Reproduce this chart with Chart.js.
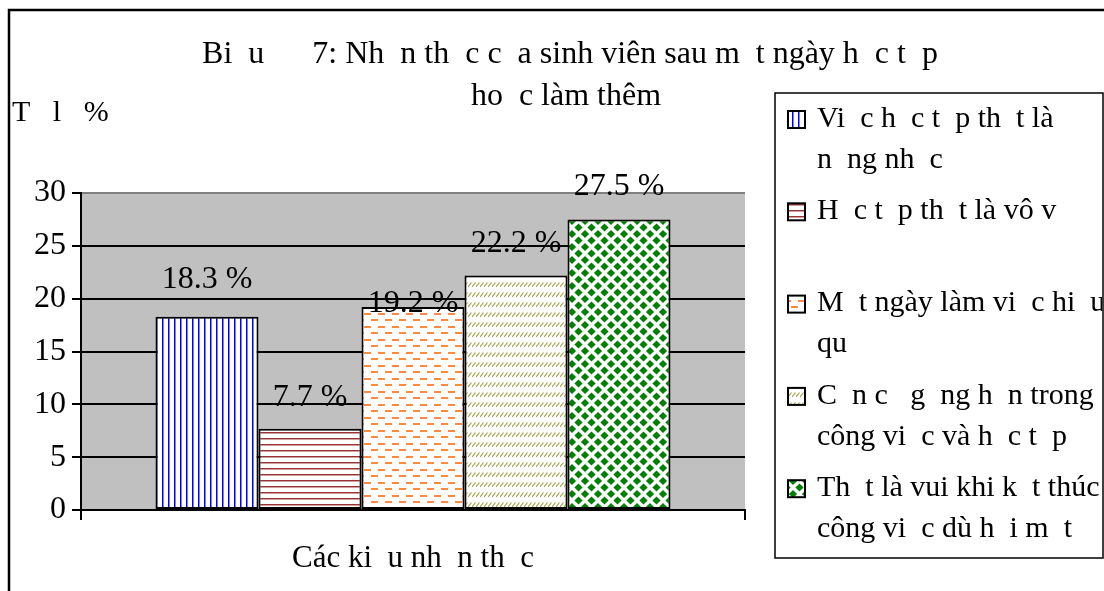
<!DOCTYPE html>
<html>
<head>
<meta charset="utf-8">
<script src="https://cdn.jsdelivr.net/npm/chart.js@4.4.1/dist/chart.umd.min.js"></script>
<style>
  html, body { margin: 0; padding: 0; background: #fff; }
  #wrap { width: 1104px; height: 591px; }
</style>
</head>
<body>
<div id="wrap"><canvas id="chart" width="1104" height="591"></canvas></div>
<script>
// 数据（原图中缺失的越南语字符用 en space 占位）
const G = '\u2002';
const categories = [''];
const seriesLabels = [
    ['Vi' + G + 'c h' + G + 'c t' + G + 'p th' + G + 't là', 'n' + G + 'ng nh' + G + 'c'],
    ['H' + G + 'c t' + G + 'p th' + G + 't là vô v' + G, ''],
    ['M' + G + 't ngày làm vi' + G + 'c hi' + G + 'u', 'qu' + G],
    ['C' + G + 'n c' + G + ' g' + G + 'ng h' + G + 'n trong', 'công vi' + G + 'c và h' + G + 'c t' + G + 'p'],
    ['Th' + G + 't là vui khi k' + G + 't thúc', 'công vi' + G + 'c dù h' + G + 'i m' + G + 't']
];
const seriesValues = [18.3, 7.7, 19.2, 22.2, 27.5];
const yTicks = [0, 5, 10, 15, 20, 25, 30];
const titleLines = [
    'Bi' + G + 'u ' + G + G + ' 7: Nh' + G + 'n th' + G + 'c c' + G + 'a sinh viên sau m' + G + 't ngày h' + G + 'c t' + G + 'p',
    'ho' + G + 'c làm thêm'
];
const yAxisTitle = 'T' + G + ' l' + G + ' %';
const xAxisTitle = 'Các ki' + G + 'u nh' + G + 'n th' + G + 'c';

const FONT = "'Liberation Serif', 'Times New Roman', serif";

// 图案填充
function makeTile(w, h, draw) {
    const c = document.createElement('canvas');
    c.width = w;
    c.height = h;
    const g = c.getContext('2d');
    g.fillStyle = '#ffffff';
    g.fillRect(0, 0, w, h);
    draw(g);
    return c;
}

const ctx = document.getElementById('chart').getContext('2d');

const tiles = [
    // 蓝色竖线
    makeTile(6, 6, g => {
        g.fillStyle = '#0000ff';
        g.fillRect(0, 0, 1, 6);
        g.fillStyle = '#8080ff';
        g.fillRect(1, 0, 1, 6);
    }),
    // 暗红横线
    makeTile(6, 6, g => {
        g.fillStyle = '#993333';
        g.fillRect(0, 0, 6, 1);
        g.fillStyle = '#d0a0a0';
        g.fillRect(0, 1, 6, 1);
    }),
    // 橙色虚线
    makeTile(14, 13, g => {
        g.fillStyle = '#ff8a3d';
        g.fillRect(0, 1, 7, 2);
        g.fillRect(7, 7, 7, 2);
    }),
    // 橄榄色斜线
    makeTile(4, 10, g => {
        g.strokeStyle = '#a3a347';
        g.lineWidth = 1.2;
        g.beginPath();
        g.moveTo(0, 7);
        g.lineTo(3.5, 2.5);
        g.stroke();
    }),
    // 绿色菱形
    makeTile(13, 13, g => {
        g.fillStyle = '#008000';
        const r = 4.1;
        [[6.5, 6.5], [0, 0], [13, 0], [0, 13], [13, 13]].forEach(([cx, cy]) => {
            g.beginPath();
            g.moveTo(cx, cy - r);
            g.lineTo(cx + r, cy);
            g.lineTo(cx, cy + r);
            g.lineTo(cx - r, cy);
            g.closePath();
            g.fill();
        });
    })
];
const patterns = tiles.map(t => ctx.createPattern(t, 'repeat'));

// 数据标签偏移（相对柱顶，基线）
const labelOffsets = [-29, -23, 5, -23, -24];

// 绘图区灰色背景
const plotBackground = {
    id: 'plotBackground',
    beforeDraw(chart) {
        const c = chart.ctx;
        const a = chart.chartArea;
        c.save();
        c.fillStyle = '#ffffff';
        c.fillRect(0, 0, chart.width, chart.height);
        c.fillStyle = '#c0c0c0';
        c.fillRect(a.left, a.top, a.right - a.left, a.bottom - a.top);
        c.restore();
    }
};

// 数据标签
const valueLabels = {
    id: 'valueLabels',
    afterDatasetsDraw(chart) {
        const c = chart.ctx;
        c.save();
        c.font = '32px ' + FONT;
        c.fillStyle = '#000';
        c.textAlign = 'center';
        c.textBaseline = 'alphabetic';
        chart.data.datasets.forEach((ds, i) => {
            const bar = chart.getDatasetMeta(i).data[0];
            c.fillText(ds.data[0].toFixed(1) + ' %', bar.x, bar.y + labelOffsets[i]);
        });
        c.restore();
    }
};

// 标题、坐标轴标题、图例、外框
const decorations = {
    id: 'decorations',
    afterDraw(chart) {
        const c = chart.ctx;
        c.save();

        // 外框
        c.strokeStyle = '#000';
        c.lineWidth = 2.5;
        c.beginPath();
        c.moveTo(9, chart.height + 5);
        c.lineTo(9, 10);
        c.lineTo(chart.width + 5, 10);
        c.stroke();

        c.fillStyle = '#000';
        c.textBaseline = 'alphabetic';

        // 标题
        c.font = '32px ' + FONT;
        c.textAlign = 'center';
        c.fillText(titleLines[0], 570, 63);
        c.fillText(titleLines[1], 566, 105);

        // y轴标题
        c.font = '30px ' + FONT;
        c.textAlign = 'left';
        c.fillText(yAxisTitle, 12, 121);

        // x轴标题
        c.font = '31px ' + FONT;
        c.textAlign = 'center';
        c.fillText(xAxisTitle, 413, 567);

        // 图例
        c.lineWidth = 1.5;
        c.strokeStyle = '#000';
        c.strokeRect(775, 93, 328, 465);
        c.save();
        c.beginPath();
        c.rect(776, 94, 326, 463);
        c.clip();
        c.font = '30px ' + FONT;
        c.textAlign = 'left';
        c.textBaseline = 'middle';
        chart.data.datasets.forEach((ds, i) => {
            const cy = 119 + 92.3 * i;
            c.fillStyle = patterns[i];
            c.fillRect(788, cy - 8, 17, 17);
            c.strokeStyle = '#000';
            c.lineWidth = 2;
            c.strokeRect(788, cy - 8, 17, 17);
            c.fillStyle = '#000';
            ds.label.forEach((line, k) => {
                c.fillText(line, 817, cy + 41 * k);
            });
        });
        c.restore();

        c.restore();
    }
};

const datasets = seriesValues.map((v, i) => ({
    label: seriesLabels[i],
    data: [v],
    backgroundColor: patterns[i],
    borderColor: '#000000',
    borderWidth: 2,
    borderSkipped: false,
    barPercentage: 1,
    categoryPercentage: 0.7756
}));

new Chart(ctx, {
    type: 'bar',
    data: {
        labels: categories,
        datasets: datasets
    },
    options: {
        responsive: false,
        animation: false,
        devicePixelRatio: 1,
        layout: {
            padding: { left: 0, top: 193, right: 359, bottom: 0 }
        },
        plugins: {
            legend: { display: false },
            title: { display: false },
            tooltip: { enabled: false }
        },
        scales: {
            x: {
                type: 'category',
                offset: true,
                grid: {
                    display: true,
                    offset: true,
                    drawOnChartArea: false,
                    drawTicks: true,
                    tickLength: 10,
                    color: '#000',
                    lineWidth: 2
                },
                border: { display: true, color: '#000', width: 2 },
                ticks: { display: false },
                afterFit: scale => { scale.height = 81; }
            },
            y: {
                min: yTicks[0],
                max: yTicks[yTicks.length - 1],
                ticks: {
                    stepSize: yTicks[1] - yTicks[0],
                    color: '#000',
                    padding: 6,
                    font: { family: FONT, size: 32 }
                },
                grid: {
                    color: c => (c.tick && c.tick.value === yTicks[yTicks.length - 1]) ? '#808080' : '#000000',
                    lineWidth: 2,
                    tickColor: '#000',
                    tickLength: 9
                },
                border: { display: true, color: '#000', width: 2 },
                afterFit: scale => { scale.width = 81; }
            }
        }
    },
    plugins: [plotBackground, valueLabels, decorations]
});
</script>
</body>
</html>
